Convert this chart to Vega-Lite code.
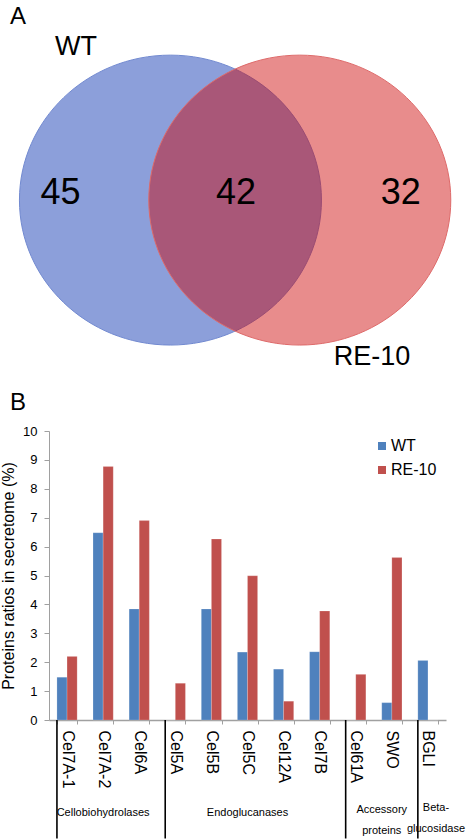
{
  "$schema": "https://vega.github.io/schema/vega-lite/v6.json",
  "padding": 0,
  "spacing": 11,
  "align": "none",
  "bounds": "flush",
  "background": "white",
  "resolve": {"scale": {"color": "independent"}, "legend": {"color": "independent"}},
  "config": {
    "view": {"stroke": null},
    "font": "Liberation Sans",
    "text": {"font": "Liberation Sans"},
    "axis": {"labelFont": "Liberation Sans", "titleFont": "Liberation Sans"},
    "axisX": {"labelAngle": 90, "labelAlign": "left", "labelBaseline": "middle", "labelFontSize": 16, "labelColor": "#000000", "labelPadding": 6, "tickBand": "extent", "tickSize": 4, "tickColor": "#A0A0A0", "domainColor": "#A0A0A0", "domainWidth": 1.5, "grid": false},
    "axisY": {"titleFontSize": 16, "titleFontWeight": "normal", "titleColor": "#000000", "titlePadding": 6, "tickCount": 10, "labelOverlap": false, "labelFontSize": 13, "labelColor": "#000000", "labelPadding": 7, "tickSize": 5, "tickColor": "#A0A0A0", "domainColor": "#A0A0A0", "grid": false},
    "legend": {"labelFont": "Liberation Sans"}
  },
  "datasets": {
    "venn_sets": [
      {"set": "WT", "cx": 35.9, "cy": 42.4},
      {"set": "RE-10", "cx": 63.3, "cy": 42.4}
    ],
    "venn_counts": [
      {"region": "WT only", "count": "45", "cx": 12.6, "cy": 41.0},
      {"region": "Both", "count": "42", "cx": 49.8, "cy": 41.0},
      {"region": "RE-10 only", "count": "32", "cx": 84.7, "cy": 41.0}
    ],
    "venn_names": [
      {"name": "WT", "cx": 15.9, "cy": 10.0},
      {"name": "RE-10", "cx": 78.6, "cy": 75.6}
    ],
    "panels": [
      {"panel": "A", "cx": 3.6, "cy": 3.5},
      {"panel": "B", "cx": 3.6, "cy": 85.5}
    ],
    "secretome": [
      {"gene": "Cel7A-1", "strain": "WT", "value": 1.48},
      {"gene": "Cel7A-1", "strain": "RE-10", "value": 2.2},
      {"gene": "Cel7A-2", "strain": "WT", "value": 6.48},
      {"gene": "Cel7A-2", "strain": "RE-10", "value": 8.77},
      {"gene": "Cel6A", "strain": "WT", "value": 3.84},
      {"gene": "Cel6A", "strain": "RE-10", "value": 6.9},
      {"gene": "Cel5A", "strain": "WT", "value": 0},
      {"gene": "Cel5A", "strain": "RE-10", "value": 1.27},
      {"gene": "Cel5B", "strain": "WT", "value": 3.84},
      {"gene": "Cel5B", "strain": "RE-10", "value": 6.26},
      {"gene": "Cel5C", "strain": "WT", "value": 2.35},
      {"gene": "Cel5C", "strain": "RE-10", "value": 4.99},
      {"gene": "Cel12A", "strain": "WT", "value": 1.76},
      {"gene": "Cel12A", "strain": "RE-10", "value": 0.65},
      {"gene": "Cel7B", "strain": "WT", "value": 2.36},
      {"gene": "Cel7B", "strain": "RE-10", "value": 3.77},
      {"gene": "Cel61A", "strain": "WT", "value": 0},
      {"gene": "Cel61A", "strain": "RE-10", "value": 1.58},
      {"gene": "SWO", "strain": "WT", "value": 0.6},
      {"gene": "SWO", "strain": "RE-10", "value": 5.62},
      {"gene": "BGLI", "strain": "WT", "value": 2.06},
      {"gene": "BGLI", "strain": "RE-10", "value": 0}
    ],
    "boundaries": [
      {"gene": "Cel7A-1"}, {"gene": "Cel5A"}, {"gene": "Cel61A"}, {"gene": "BGLI"}
    ],
    "groups_single": [
      {"group": "Cellobiohydrolases", "gene": "Cel7A-2"},
      {"group": "Endoglucanases", "gene": "Cel5C"}
    ],
    "groups_accessory": [
      {"group": "Accessory\nproteins", "gene": "SWO"}
    ],
    "groups_beta": [
      {"group": "Beta-\nglucosidase", "gene": "BGLI"}
    ]
  },
  "vconcat": [
    {
      "width": 424,
      "height": 420,
      "layer": [
        {
          "data": {"name": "venn_sets"},
          "transform": [{"filter": "datum.set === 'WT'"}],
          "mark": {"type": "point", "shape": "M 1 0 C 1 0.5302 0.5523 0.96 0 0.96 C -0.5523 0.96 -1 0.5302 -1 0 C -1 -0.5302 -0.5523 -0.96 0 -0.96 C 0.5523 -0.96 1 -0.5302 1 0 Z", "size": 91204, "filled": true, "fill": "#8C9FDA", "opacity": 1, "stroke": "#7189D0", "strokeWidth": 1},
          "encoding": {
            "x": {"field": "cx", "type": "quantitative", "scale": {"domain": [10.17, 100], "nice": false, "zero": false}, "axis": null},
            "y": {"field": "cy", "type": "quantitative", "scale": {"domain": [0, 89], "nice": false, "zero": false, "reverse": true}, "axis": null}
          }
        },
        {
          "data": {"name": "venn_sets"},
          "transform": [{"filter": "datum.set === 'RE-10'"}],
          "mark": {"type": "point", "shape": "M 1 0 C 1 0.5302 0.5523 0.96 0 0.96 C -0.5523 0.96 -1 0.5302 -1 0 C -1 -0.5302 -0.5523 -0.96 0 -0.96 C 0.5523 -0.96 1 -0.5302 1 0 Z", "size": 91204, "filled": true, "fill": "#CC0000", "fillOpacity": 0.45, "opacity": 1, "stroke": "#DE6A6A", "strokeWidth": 1},
          "encoding": {
            "x": {"field": "cx", "type": "quantitative", "axis": null},
            "y": {"field": "cy", "type": "quantitative", "axis": null}
          }
        },
        {
          "data": {"name": "venn_counts"},
          "mark": {"type": "text", "fontSize": 36, "color": "#000000", "align": "center", "baseline": "middle"},
          "encoding": {
            "x": {"field": "cx", "type": "quantitative", "axis": null},
            "y": {"field": "cy", "type": "quantitative", "axis": null},
            "text": {"field": "count"}
          }
        },
        {
          "data": {"name": "venn_names"},
          "mark": {"type": "text", "fontSize": 27, "color": "#000000", "align": "center", "baseline": "middle"},
          "encoding": {
            "x": {"field": "cx", "type": "quantitative", "axis": null},
            "y": {"field": "cy", "type": "quantitative", "axis": null},
            "text": {"field": "name"}
          }
        },
        {
          "data": {"name": "panels"},
          "mark": {"type": "text", "fontSize": 24, "color": "#000000", "align": "center", "baseline": "middle"},
          "encoding": {
            "x": {"field": "cx", "type": "quantitative", "axis": null},
            "y": {"field": "cy", "type": "quantitative", "axis": null},
            "text": {"field": "panel"}
          }
        }
      ]
    },
    {
      "width": 397,
      "height": 289,
      "layer": [
        {
          "data": {"name": "secretome"},
          "mark": {"type": "bar", "stroke": "#FFFFFF", "strokeOpacity": 0.35, "strokeWidth": 0.5},
          "encoding": {
            "x": {
              "field": "gene", "type": "nominal", "sort": null,
              "scale": {"paddingInner": 0.44, "paddingOuter": 0.22},
              "axis": {"title": null}
            },
            "xOffset": {"field": "strain", "type": "nominal", "sort": ["WT", "RE-10"], "scale": {"domain": ["WT", "RE-10"], "paddingInner": 0, "paddingOuter": 0}},
            "y": {
              "field": "value", "type": "quantitative",
              "scale": {"domain": [0, 10], "nice": false},
              "axis": {"title": "Proteins ratios in secretome (%)"}
            },
            "color": {
              "field": "strain", "type": "nominal",
              "scale": {"domain": ["WT", "RE-10"], "range": ["#4F81BD", "#C0504D"]},
              "legend": {"title": null, "orient": "none", "legendX": 325, "legendY": 7, "symbolType": "square", "symbolSize": 64, "symbolStrokeWidth": 0, "labelFontSize": 16, "labelColor": "#000000", "labelOffset": 1, "rowPadding": 8}
            }
          }
        },
        {
          "data": {"name": "boundaries"},
          "mark": {"type": "rule", "color": "#000000", "strokeWidth": 1.6},
          "encoding": {
            "x": {"field": "gene", "type": "nominal", "sort": null, "bandPosition": 0, "axis": {"title": null}},
            "y": {"datum": 0, "type": "quantitative", "scale": {"domain": [0, 10], "nice": false}, "axis": {"title": "Proteins ratios in secretome (%)"}},
            "y2": {"datum": -4.1}
          }
        },
        {
          "data": {"name": "groups_single"},
          "mark": {"type": "text", "fontSize": 11, "color": "#000000", "align": "center", "baseline": "middle"},
          "encoding": {
            "x": {"field": "gene", "type": "nominal", "sort": null, "axis": {"title": null}},
            "y": {"datum": -3.22, "type": "quantitative", "scale": {"domain": [0, 10], "nice": false}, "axis": {"title": "Proteins ratios in secretome (%)"}},
            "text": {"field": "group"}
          }
        },
        {
          "data": {"name": "groups_accessory"},
          "mark": {"type": "text", "fontSize": 11, "color": "#000000", "align": "center", "baseline": "middle", "lineBreak": "\n", "lineHeight": 21},
          "encoding": {
            "x": {"field": "gene", "type": "nominal", "sort": null, "bandPosition": 0, "axis": {"title": null}},
            "y": {"datum": -3.11, "type": "quantitative", "scale": {"domain": [0, 10], "nice": false}, "axis": {"title": "Proteins ratios in secretome (%)"}},
            "text": {"field": "group"}
          }
        },
        {
          "data": {"name": "groups_beta"},
          "mark": {"type": "text", "fontSize": 11, "color": "#000000", "align": "center", "baseline": "middle", "lineBreak": "\n", "lineHeight": 21, "dx": 8},
          "encoding": {
            "x": {"field": "gene", "type": "nominal", "sort": null, "axis": {"title": null}},
            "y": {"datum": -3.05, "type": "quantitative", "scale": {"domain": [0, 10], "nice": false}, "axis": {"title": "Proteins ratios in secretome (%)"}},
            "text": {"field": "group"}
          }
        }
      ]
    }
  ]
}
